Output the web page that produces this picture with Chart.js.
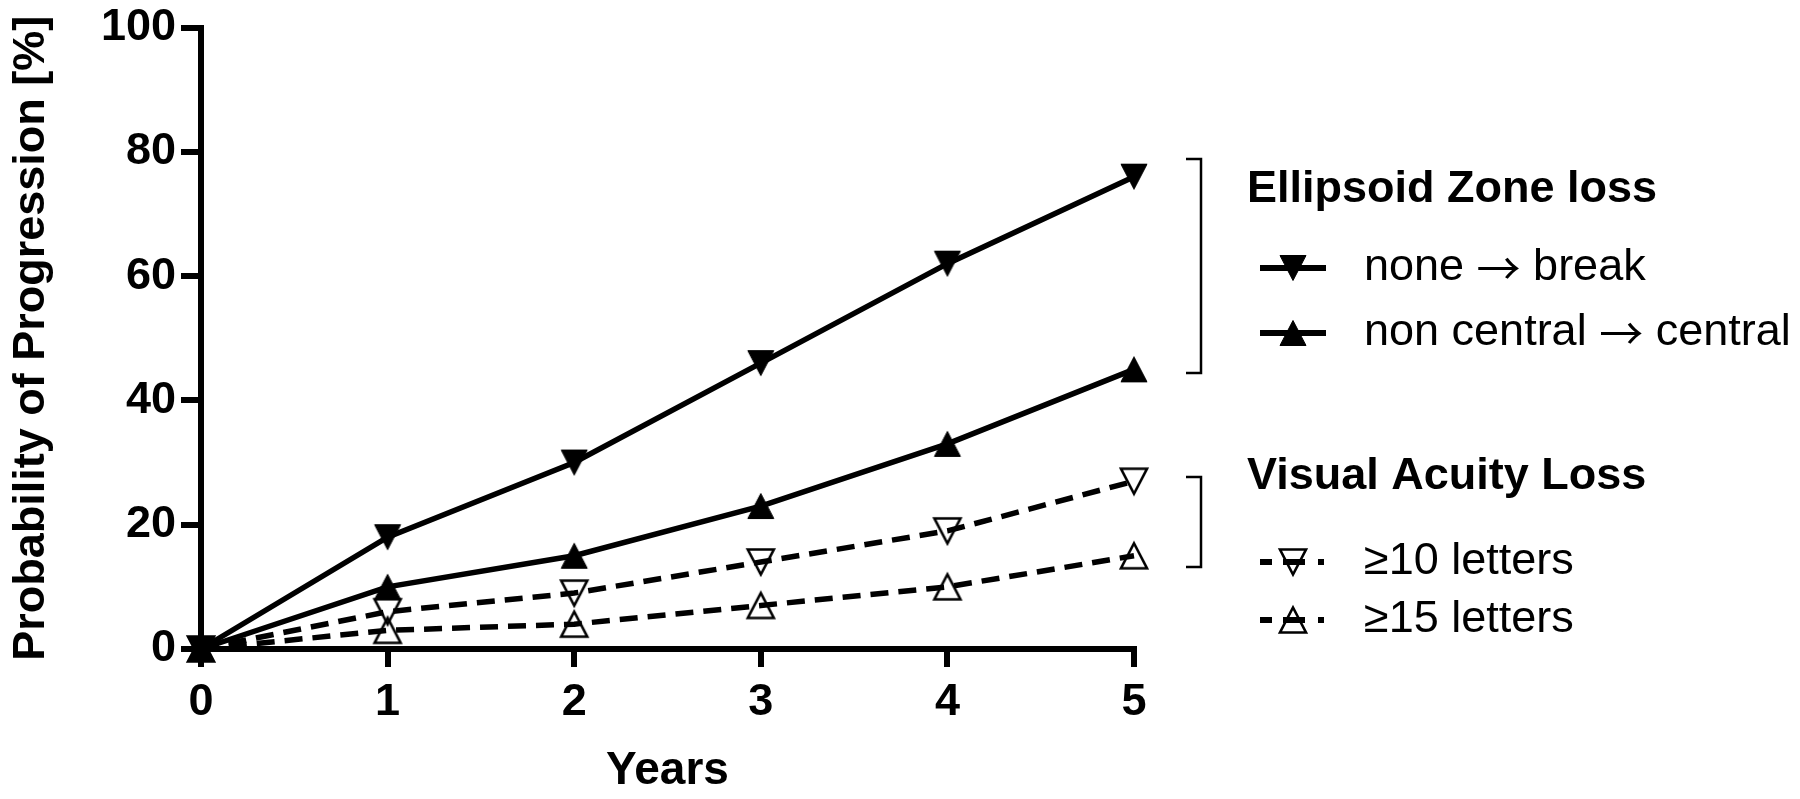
<!DOCTYPE html>
<html><head><meta charset="utf-8">
<script src="https://cdn.jsdelivr.net/npm/chart.js@4.4.1/dist/chart.umd.min.js"></script>
<style>html,body{margin:0;padding:0;background:#fff;overflow:hidden}#wrap{width:1800px;height:799px}</style>
</head><body><div id="wrap"><canvas id="c" width="1800" height="799"></canvas></div>
<script>
const years = [0, 1, 2, 3, 4, 5];
const noneToBreak = [0, 18, 30, 46, 62, 76];
const nonCentralToCentral = [0, 10, 15, 23, 33, 45];
const ge10Letters = [0, 6, 9, 14, 19, 27];
const ge15Letters = [0, 3, 4, 7, 10, 15];
const xTickValues = [0, 1, 2, 3, 4, 5];
const yTickValues = [0, 20, 40, 60, 80, 100];
const seriesLabels = ['none \u2192 break', 'non central \u2192 central', '\u226510 letters', '\u226515 letters'];
const groupTitles = ['Ellipsoid Zone loss', 'Visual Acuity Loss'];
const xTitle = 'Years';
const yTitle = 'Probability of Progression [%]';

const FONT = "'Liberation Sans', Arial, Helvetica, sans-serif";
const ARROW_FONT = "'Noto Sans CJK JP', 'DejaVu Sans', sans-serif";
const DASH = [18, 10];
Chart.defaults.color = '#000';
Chart.defaults.font.family = FONT;

function pts(arr) { return years.map((x, i) => ({x: x, y: arr[i]})); }

function makeTri(down, filled) {
  const S = 36, c = document.createElement('canvas');
  c.width = S; c.height = S;
  const g = c.getContext('2d');
  const w = 26, h = 25, cx = S / 2, cy = S / 2;
  g.beginPath();
  if (down) {
    g.moveTo(cx - w / 2, cy - h / 2); g.lineTo(cx + w / 2, cy - h / 2); g.lineTo(cx, cy + h / 2);
  } else {
    g.moveTo(cx - w / 2, cy + h / 2); g.lineTo(cx + w / 2, cy + h / 2); g.lineTo(cx, cy - h / 2);
  }
  g.closePath();
  g.strokeStyle = '#000';
  if (filled) { g.fillStyle = '#000'; g.fill(); g.lineWidth = 1; g.stroke(); }
  else { g.lineWidth = 2.6; g.lineJoin = 'miter'; g.stroke(); }
  return c;
}

const styles = [
  {img: makeTri(true, true), dash: [], legendDash: []},
  {img: makeTri(false, true), dash: [], legendDash: []},
  {img: makeTri(true, false), dash: DASH, legendDash: [12, 11, 22, 13, 6, 100]},
  {img: makeTri(false, false), dash: DASH, legendDash: [12, 11, 22, 13, 6, 100]}
];
const seriesData = [noneToBreak, nonCentralToCentral, ge10Letters, ge15Letters];

const datasets = seriesData.map((arr, i) => ({
  label: seriesLabels[i],
  data: pts(arr),
  borderColor: '#000',
  borderWidth: 5.5,
  borderDash: styles[i].dash,
  pointStyle: styles[i].img,
  pointRadius: 13,
  pointHoverRadius: 13,
  pointBackgroundColor: '#000',
  pointBorderColor: '#000',
  fill: false,
  tension: 0,
  clip: false
})).reverse();

const L = {
  bx0: 1186, bx1: 1201,
  brackets: [[159, 373], [477, 567]],
  titleX: 1247, titleY: [190, 477],
  sampleX0: 1260, sampleX1: 1326, markX: 1293, textX: 1364,
  itemY: [268, 333, 562, 620],
  arrowSlot: 44
};

function drawLabel(ctx, text, x, y) {
  const parts = text.split('\u2192');
  ctx.font = '45px ' + FONT;
  if (parts.length === 1) { ctx.fillText(text, x, y); return; }
  ctx.fillText(parts[0], x, y);
  let cx = x + ctx.measureText(parts[0]).width;
  ctx.font = '44px ' + ARROW_FONT;
  const aw = ctx.measureText('\u2192').width;
  ctx.fillText('\u2192', cx + (L.arrowSlot - aw) / 2, y);
  cx += L.arrowSlot;
  ctx.font = '45px ' + FONT;
  ctx.fillText(parts[1], cx, y);
}

const groupLegend = {
  id: 'groupLegend',
  afterDraw(chart) {
    const ctx = chart.ctx;
    ctx.save();
    ctx.strokeStyle = '#000';
    ctx.lineWidth = 2.5;
    ctx.setLineDash([]);
    L.brackets.forEach(b => {
      ctx.beginPath();
      ctx.moveTo(L.bx0, b[0]); ctx.lineTo(L.bx1, b[0]); ctx.lineTo(L.bx1, b[1]); ctx.lineTo(L.bx0, b[1]);
      ctx.stroke();
    });
    ctx.fillStyle = '#000';
    ctx.textBaseline = 'middle';
    ctx.textAlign = 'left';
    ctx.font = 'bold 45px ' + FONT;
    groupTitles.forEach((t, i) => ctx.fillText(t, L.titleX, L.titleY[i]));
    seriesLabels.forEach((t, i) => {
      const y = L.itemY[i], s = styles[i];
      ctx.beginPath();
      ctx.setLineDash(s.legendDash);
      ctx.lineWidth = 6;
      ctx.strokeStyle = '#000';
      ctx.moveTo(L.sampleX0, y); ctx.lineTo(L.sampleX1, y);
      ctx.stroke();
      ctx.setLineDash([]);
      ctx.drawImage(s.img, L.markX - s.img.width / 2, y - s.img.height / 2);
      ctx.fillStyle = '#000';
      drawLabel(ctx, t, L.textX, y);
    });
    ctx.restore();
  }
};

new Chart(document.getElementById('c'), {
  type: 'line',
  data: {datasets: datasets},
  plugins: [groupLegend],
  options: {
    responsive: false,
    devicePixelRatio: 1,
    animation: false,
    events: [],
    layout: {padding: {left: 0, right: 666, top: 27, bottom: 0}},
    plugins: {legend: {display: false}, tooltip: {enabled: false}},
    scales: {
      x: {
        type: 'linear', min: 0, max: 5,
        afterBuildTicks(s) { s.ticks = xTickValues.map(v => ({value: v})); },
        afterFit(s) { s.height = 150; },
        ticks: {font: {size: 45, weight: 'bold', lineHeight: 1}, color: '#000', padding: 13, maxRotation: 0},
        grid: {drawOnChartArea: false, drawTicks: true, tickLength: 18, lineWidth: 6, color: '#000'},
        border: {display: true, width: 6, color: '#000'},
        title: {display: true, text: xTitle, font: {size: 46, weight: 'bold', lineHeight: 1.2}, color: '#000', padding: {top: 0, bottom: 0}}
      },
      y: {
        type: 'linear', min: 0, max: 100,
        afterBuildTicks(s) { s.ticks = yTickValues.map(v => ({value: v})); },
        afterFit(s) { s.width = 201; },
        ticks: {font: {size: 45, weight: 'bold', lineHeight: 1}, color: '#000', padding: 5},
        grid: {drawOnChartArea: false, drawTicks: true, tickLength: 20, lineWidth: 6, color: '#000'},
        border: {display: true, width: 6, color: '#000'},
        title: {display: true, text: yTitle, font: {size: 45, weight: 'bold', lineHeight: 1.2}, color: '#000', padding: {top: 5, bottom: 0}}
      }
    }
  }
});
</script></body></html>
